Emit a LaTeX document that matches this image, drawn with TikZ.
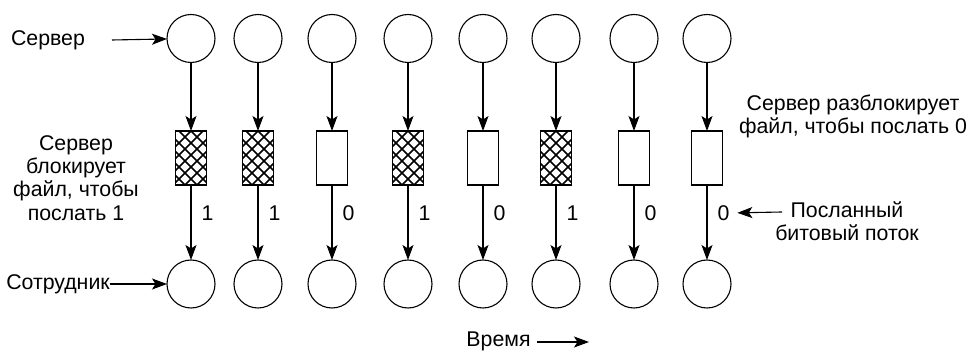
\documentclass[tikz,border=0pt]{standalone}
\usepackage{fontspec}
\setmainfont{Liberation Sans}
\usetikzlibrary{arrows.meta}
\begin{document}
\begin{tikzpicture}[x=1pt,y=-1pt,
  every node/.style={inner sep=0pt, outer sep=0pt},
  txt/.style={font=\fontsize{21.3}{23.3}\selectfont, align=center},
  circ/.style={draw, circle, line width=1.1pt, minimum size=48pt},
  bitbox/.style={draw, rectangle, line width=1.2pt, minimum width=31pt, minimum height=54pt},
  hatched/.style={bitbox, path picture={
      \foreach \d in {-72,-60,...,72} {
        \draw[line width=1.5pt] ([xshift=\d pt, yshift=-45pt]path picture bounding box.center) -- ++(90pt,90pt);
        \draw[line width=1.5pt] ([xshift=\d pt, yshift=-45pt]path picture bounding box.center) -- ++(-90pt,90pt);
      }}},
  arr/.style={line width=1.1pt, -{Stealth[length=15pt, width=11pt, inset=3.5pt]}},
  bit/.style={txt, anchor=west}
]
\useasboundingbox (0,0) rectangle (970,352);

% columns
\foreach \i/\x/\b/\h in {1/191/1/1, 2/258/1/1, 3/332/0/0, 4/408/1/1, 5/483/0/0, 6/556/1/1, 7/634/0/0, 8/707/0/0} {
  \node[circ] (t\i) at (\x,38.5) {};
  \ifnum\h=1
    \node[hatched] (r\i) at (\x,158) {};
  \else
    \node[bitbox] (r\i) at (\x,158) {};
  \fi
  \node[circ] (b\i) at (\x,284) {};
  \draw[arr] (t\i) -- (r\i);
  \draw[arr] (r\i) -- (b\i);
  \node[bit] (l\i) at (\x+10.5,213) {\b};
}

% left labels
\node[txt] (srv) at (48,40) {Сервер};
\coordinate (srvA) at (112,40);
\draw[arr] (srvA) -- (t1);

\node[txt] (emp) at (58,284) {Сотрудник};
\draw[arr] (emp.east) -- (b1);

\node[txt] (lock) at (76,178) {Сервер\\блокирует\\файл, чтобы\\послать 1};

% right labels
\node[txt] (unlock) at (853,116.5) {Сервер разблокирует\\файл, чтобы послать 0};

\node[txt] (sent) at (847,221.5) {Посланный\\битовый поток};
\coordinate (sentA) at (782,212);
\draw[arr, shorten >=8pt] (sentA) -- (l8.east);

% time
\node[txt] (time) at (498.5,341) {Время};
\coordinate (timeA) at (537,342);
\coordinate (timeB) at (589,342);
\draw[arr] (timeA) -- (timeB);
\end{tikzpicture}
\end{document}
